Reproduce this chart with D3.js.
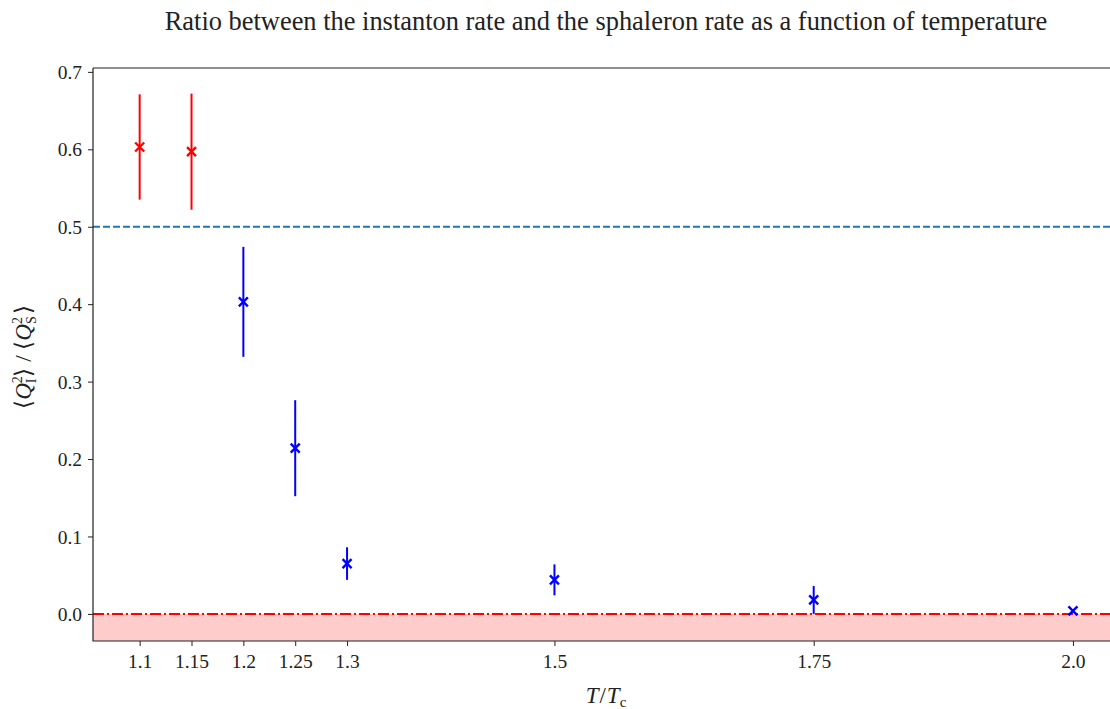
<!DOCTYPE html>
<html><head><meta charset="utf-8">
<script src="https://cdn.jsdelivr.net/npm/d3@7"></script>
<style>body{margin:0;background:#fff}svg{display:block}</style>
</head><body><svg id="c" width="1110" height="709"></svg>
<script>
const temps = [1.1, 1.15, 1.2, 1.25, 1.3, 1.5, 1.75, 2.0];
const ratios = [0.603, 0.597, 0.403, 0.214, 0.065, 0.044, 0.018, 0.004];
const errors = [0.068, 0.075, 0.071, 0.062, 0.021, 0.020, 0.018, 0.002];
const pointColors = ["red", "red", "blue", "blue", "blue", "blue", "blue", "blue"];
const xTicks = [1.1, 1.15, 1.2, 1.25, 1.3, 1.5, 1.75, 2.0];
const xTickLabels = ["1.1", "1.15", "1.2", "1.25", "1.3", "1.5", "1.75", "2.0"];
const yTicks = [0.0, 0.1, 0.2, 0.3, 0.4, 0.5, 0.6, 0.7];
const halfLine = 0.5;
const zeroLine = 0.0;

const svg = d3.select("#c");
const L = 93, T = 68, B = 641, R = 1119.6;
const x = d3.scaleLinear().domain([1.055, 2.045]).range([L, R]);
const y = d3.scaleLinear().domain([-0.035, 0.705]).range([B, T]);
const font = "'Liberation Serif', serif";

svg.append("rect").attr("x", L).attr("y", y(zeroLine)).attr("width", R - L).attr("height", B - y(zeroLine))
  .attr("fill", "#ffcccc");

svg.append("line").attr("x1", L).attr("x2", R).attr("y1", y(halfLine)).attr("y2", y(halfLine))
  .attr("stroke", "#1f77b4").attr("stroke-width", 1.8).attr("stroke-dasharray", "7,3");
svg.append("line").attr("x1", L).attr("x2", R).attr("y1", y(zeroLine)).attr("y2", y(zeroLine))
  .attr("stroke", "red").attr("stroke-width", 2).attr("stroke-dasharray", "11,3,2,3");

const data = temps.map((t, i) => ({t, r: ratios[i], e: errors[i], c: pointColors[i]}));
const g = svg.append("g");
g.selectAll("line.err").data(data).join("line").attr("class", "err")
  .attr("x1", d => x(d.t)).attr("x2", d => x(d.t))
  .attr("y1", d => y(d.r - d.e)).attr("y2", d => y(d.r + d.e))
  .attr("stroke", d => d.c).attr("stroke-width", 2);
const s = 4.5;
g.selectAll("path.mk").data(data).join("path").attr("class", "mk")
  .attr("d", d => { const cx = x(d.t), cy = y(d.r); return `M${cx-s},${cy-s}L${cx+s},${cy+s}M${cx-s},${cy+s}L${cx+s},${cy-s}`; })
  .attr("stroke", d => d.c).attr("stroke-width", 2.4).attr("fill", "none");

svg.append("path").attr("d", `M${L},${T}V${B}H${R}`).attr("fill", "none").attr("stroke", "#222").attr("stroke-width", 1.2);
svg.append("line").attr("x1", L).attr("x2", R).attr("y1", T).attr("y2", T).attr("stroke", "#222").attr("stroke-width", 1.2);

const xAxis = svg.append("g").attr("transform", `translate(0,${B})`)
  .call(d3.axisBottom(x).tickValues(xTicks).tickFormat((d, i) => xTickLabels[i]).tickSize(5).tickPadding(6));
const yAxis = svg.append("g").attr("transform", `translate(${L},0)`)
  .call(d3.axisLeft(y).tickValues(yTicks).tickFormat(d3.format(".1f")).tickSize(5).tickPadding(6));
[xAxis, yAxis].forEach(a => {
  a.select(".domain").remove();
  a.attr("font-family", null).attr("font-size", null);
  a.selectAll("line").attr("stroke", "#222").attr("stroke-width", 1);
  a.selectAll("text").attr("font-family", font).attr("font-size", 19.5).attr("fill", "#222");
});
xAxis.selectAll("text").attr("dy", "0.82em");
yAxis.selectAll("text").attr("dy", "0.34em");

const title = svg.append("text").attr("x", 606).attr("y", 30).attr("text-anchor", "middle")
  .attr("font-family", font).attr("font-size", 21).attr("fill", "#222")
  .text("Ratio between the instanton rate and the sphaleron rate as a function of temperature");
const tw = title.node().getComputedTextLength();
title.attr("font-size", 21 * 883 / tw);

const xl = svg.append("text").attr("x", 606).attr("y", 703).attr("text-anchor", "middle")
  .attr("font-family", font).attr("font-size", 23).attr("fill", "#222");
xl.append("tspan").attr("font-style", "italic").text("T");
xl.append("tspan").attr("dx", 1).text("/");
xl.append("tspan").attr("dx", 1).attr("font-style", "italic").text("T");
xl.append("tspan").attr("font-size", 15).attr("dy", 4).text("c");

const yl = svg.append("text").attr("transform", "translate(31,357) rotate(-90)").attr("text-anchor", "middle")
  .attr("font-family", font).attr("font-size", 23).attr("fill", "#222");
yl.append("tspan").text("⟨");
yl.append("tspan").attr("font-style", "italic").text("Q");
yl.append("tspan").attr("font-size", 14).attr("dy", -9).text("2");
yl.append("tspan").attr("font-size", 14).attr("dx", -7).attr("dy", 14).text("I");
yl.append("tspan").attr("dy", -5).attr("dx", 2).text("⟩ / ⟨");
yl.append("tspan").attr("font-style", "italic").text("Q");
yl.append("tspan").attr("font-size", 14).attr("dy", -9).text("2");
yl.append("tspan").attr("font-size", 14).attr("dx", -7).attr("dy", 14).text("S");
yl.append("tspan").attr("dy", -5).attr("dx", 2).text("⟩");
</script></body></html>
